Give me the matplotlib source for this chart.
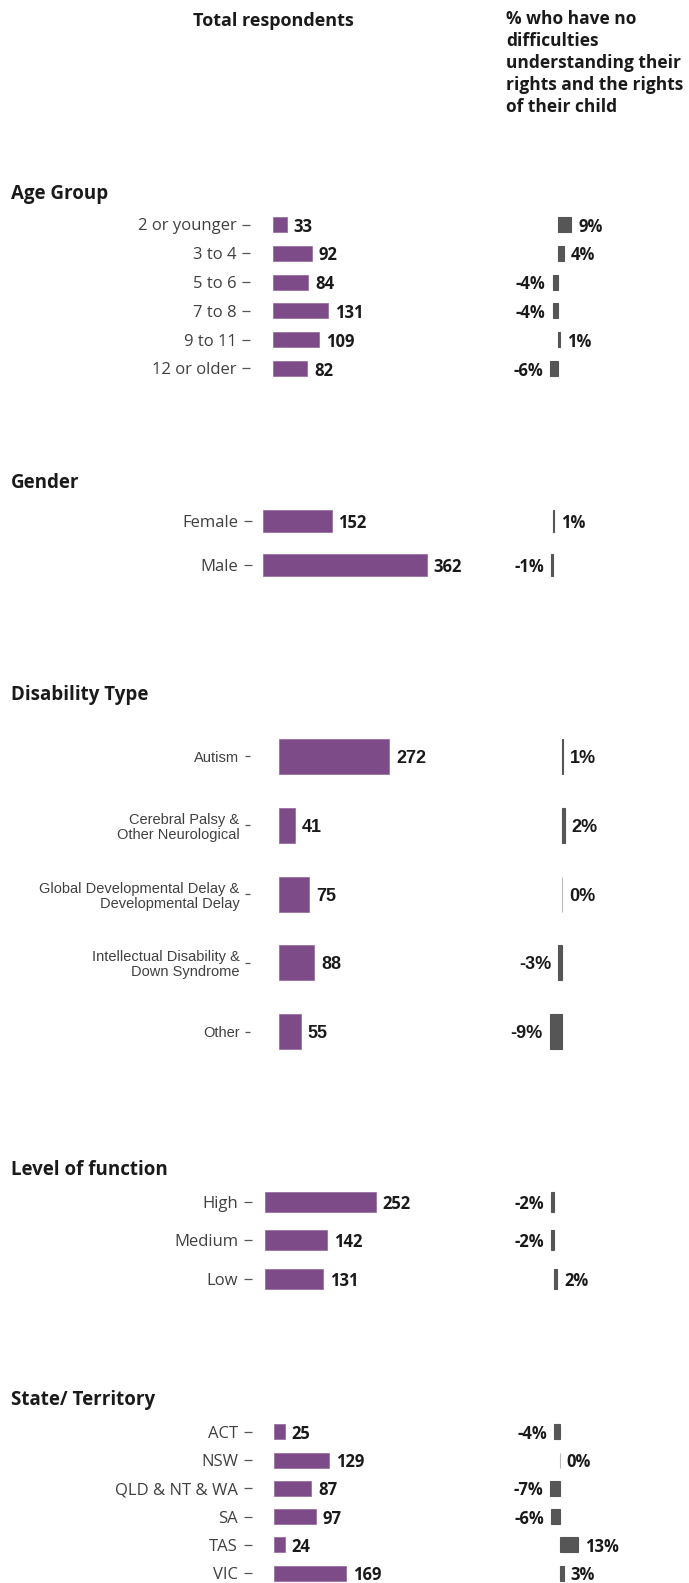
import matplotlib
matplotlib.use("Agg")
import matplotlib.pyplot as plt

plt.rcParams['font.family'] = ['Open Sans', 'DejaVu Sans']

# Datos por grupo: categorias, total de encuestados y % sin dificultades
age_groups = ['2 or younger', '3 to 4', '5 to 6', '7 to 8', '9 to 11', '12 or older']
age_n = [33, 92, 84, 131, 109, 82]
age_pct = [9, 4, -4, -4, 1, -6]

genders = ['Female', 'Male']
gender_n = [152, 362]
gender_pct = [1, -1]

disability_types = ['Autism',
                    'Cerebral Palsy &\nOther Neurological',
                    'Global Developmental Delay &\nDevelopmental Delay',
                    'Intellectual Disability &\nDown Syndrome',
                    'Other']
disability_n = [272, 41, 75, 88, 55]
disability_pct = [1, 2, 0, -3, -9]

function_levels = ['High', 'Medium', 'Low']
function_n = [252, 142, 131]
function_pct = [-2, -2, 2]

states = ['ACT', 'NSW', 'QLD & NT & WA', 'SA', 'TAS', 'VIC']
state_n = [25, 129, 87, 97, 24, 169]
state_pct = [-4, 0, -7, -6, 13, 3]

W, H = 689, 1583
PURPLE = '#7d4b87'
GREY = '#565656'

fig = plt.figure(figsize=(W / 100, H / 100), dpi=100)


def rect(x, y_top, w, h):
    # caja en pixeles (origen arriba a la izquierda) -> fraccion de figura
    return [x / W, 1 - (y_top + h) / H, w / W, h / H]


def ftext(x, y, s, **kw):
    fig.text(x / W, 1 - y / H, s, **kw)


def seccion(title, title_y, labels, counts, pcts, row0, step, bar_h,
            axis_x, bar_x, scale, zero_x, pscale,
            lab_font='Open Sans', lab_size=12, val_font='Open Sans', val_size=12,
            tick_len=5.8):
    n = len(labels)
    top = row0 - step / 2
    ftext(10.7, title_y, title, fontsize=13.5, fontweight='bold', color='#1a1a1a',
          va='baseline')

    # barras de total de encuestados
    ax = fig.add_axes(rect(axis_x, top, 230, n * step))
    off = (bar_x - axis_x) / scale
    ax.set_xlim(-off, -off + 230 / scale)
    ax.set_ylim(n - 0.5, -0.5)
    ax.barh(range(n), counts, height=bar_h / step, color=PURPLE,
            edgecolor='#9a72a3', linewidth=0.6)
    for i, v in enumerate(counts):
        ax.annotate(str(v), (v, i), xytext=(5, 0), textcoords='offset points',
                    ha='left', va='center_baseline', fontsize=val_size,
                    fontweight='bold', family=[val_font, 'DejaVu Sans'], color='#1a1a1a')
    ax.set_yticks(range(n))
    ax.set_yticklabels(labels, fontsize=lab_size, color='#404040',
                       family=[lab_font, 'DejaVu Sans'], linespacing=1.1)
    ax.tick_params(axis='y', length=tick_len, width=0.9, color='#555555', pad=4)
    ax.set_xticks([])
    for s in ax.spines.values():
        s.set_visible(False)
    ax.patch.set_alpha(0)

    # barras de % (diferencia)
    ax2 = fig.add_axes(rect(zero_x - 80, top, 160, n * step))
    ax2.set_xlim(-80 / pscale, 80 / pscale)
    ax2.set_ylim(n - 0.5, -0.5)
    edges = ['#bbbbbb' if p == 0 else GREY for p in pcts]
    ax2.barh(range(n), pcts, height=bar_h / step, color=GREY,
             edgecolor=edges, linewidth=0.8)
    for i, p in enumerate(pcts):
        dx = 5 if p >= 0 else -5
        ax2.annotate(f'{p}%', (p, i), xytext=(dx, 0), textcoords='offset points',
                     ha='left' if p >= 0 else 'right', va='center_baseline',
                     fontsize=val_size, fontweight='bold',
                     family=[val_font, 'DejaVu Sans'], color='#1a1a1a')
    ax2.axis('off')


# encabezados de columnas
ftext(273.4, 25.7, 'Total respondents', fontsize=13, fontweight='bold',
      color='#1a1a1a', ha='center', va='baseline')
ftext(506, 10, '% who have no\ndifficulties\nunderstanding their\nrights and the rights\nof their child',
      fontsize=12.5, fontweight='bold', color='#1a1a1a', ha='left', va='top',
      linespacing=1.28)

seccion('Age Group', 199, age_groups, age_n, age_pct,
        224.5, 28.8, 15, 250, 272.7, 0.424, 558.3, 1.42)
seccion('Gender', 487.6, genders, gender_n, gender_pct,
        521, 44, 22.3, 252, 262.7, 0.453, 552.5, 1.5)
seccion('Disability Type', 699.6, disability_types, disability_n, disability_pct,
        756.5, 68.8, 35, 250, 278.5, 0.408, 562, 1.35,
        lab_font='Liberation Sans', lab_size=10.5,
        val_font='Liberation Sans', val_size=13, tick_len=3.6)
seccion('Level of function', 1175, function_levels, function_n, function_pct,
        1201.7, 38.7, 20, 251.7, 265, 0.44, 554.3, 1.5)
seccion('State/ Territory', 1405.3, states, state_n, state_pct,
        1431.7, 28.3, 15, 251.7, 274.3, 0.425, 559.5, 1.4)

fig.savefig('out.png', dpi=100, facecolor='white')
